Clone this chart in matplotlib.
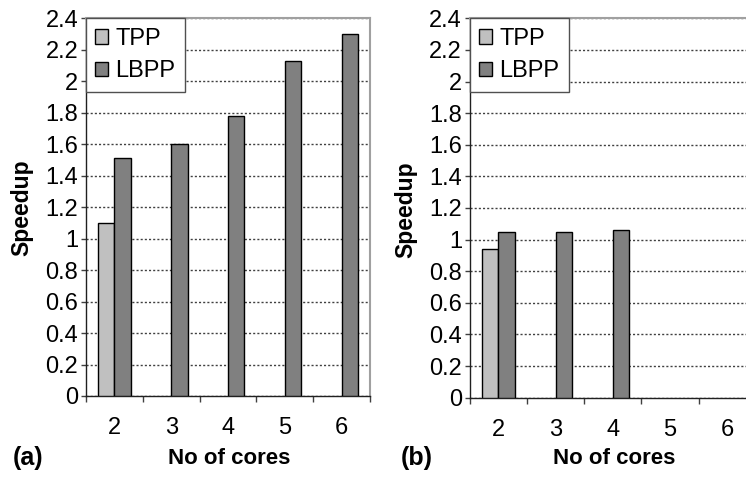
import matplotlib
matplotlib.use("Agg")
import matplotlib.pyplot as plt
import numpy as np
from matplotlib.ticker import FixedLocator

plt.rcParams['font.family'] = ['Liberation Sans', 'DejaVu Sans']

cores = ["2", "3", "4", "5", "6"]
series = ["TPP", "LBPP"]
tpp_a = [1.10, np.nan, np.nan, np.nan, np.nan]
lbpp_a = [1.51, 1.60, 1.78, 2.13, 2.30]
tpp_b = [0.94, np.nan, np.nan, np.nan, np.nan]
lbpp_b = [1.05, 1.05, 1.06, np.nan, np.nan]
y_ticks = [0, 0.2, 0.4, 0.6, 0.8, 1.0, 1.2, 1.4, 1.6, 1.8, 2.0, 2.2, 2.4]
y_tick_labels = ["0", "0.2", "0.4", "0.6", "0.8", "1", "1.2", "1.4", "1.6",
                 "1.8", "2", "2.2", "2.4"]
panel_tags = ["(a)", "(b)"]
x_title = "No of cores"
y_title = "Speedup"

colors = ["#c0c0c0", "#808080"]
W, H = 746, 478
fig = plt.figure(figsize=(W / 100, H / 100), dpi=100)

def px_rect(left, top, right, bottom):
    return [left / W, 1 - bottom / H, (right - left) / W, (bottom - top) / H]

panels = [
    dict(rect=px_rect(86, 18.3, 370, 396), tpp=tpp_a, lbpp=lbpp_a,
         tag_xy=(13, 465), xl_xy=(229, 464), yl_xy=(22, 208)),
    dict(rect=px_rect(469.7, 18.3, 756, 397.7), tpp=tpp_b, lbpp=lbpp_b,
         tag_xy=(401, 465), xl_xy=(614, 464), yl_xy=(406, 210)),
]

tick_fs = 17
bw = 0.29
x = np.arange(len(cores))
for i, p in enumerate(panels):
    ax = fig.add_axes(p["rect"])
    ax.bar(x - bw / 2, p["tpp"], bw, color=colors[0], edgecolor="black",
           linewidth=1.0, label=series[0], zorder=3)
    ax.bar(x + bw / 2, p["lbpp"], bw, color=colors[1], edgecolor="black",
           linewidth=1.0, label=series[1], zorder=3)
    ax.set_xlim(-0.5, len(cores) - 0.5)
    ax.set_ylim(0, 2.4)
    ax.set_yticks(y_ticks)
    ax.set_yticklabels(y_tick_labels, fontsize=tick_fs)
    ax.set_xticks(x)
    ax.set_xticklabels(cores, fontsize=tick_fs)
    ax.xaxis.set_minor_locator(FixedLocator(np.arange(-0.5, len(cores), 1.0)))
    ax.tick_params(axis="x", which="major", length=0, pad=15)
    ax.tick_params(axis="x", which="minor", length=4.5, width=1.0,
                   color="#404040", direction="out")
    ax.tick_params(axis="y", length=3.6, width=1.0, color="#404040",
                   direction="out", pad=2)
    ax.yaxis.grid(True, linestyle=(0, (1.5, 1.5)), linewidth=1.0,
                  color="#404040")
    ax.set_axisbelow(True)
    for s in ("left", "bottom"):
        ax.spines[s].set_color("#202020")
        ax.spines[s].set_linewidth(1.0)
    for s in ("top", "right"):
        ax.spines[s].set_color("#a0a0a0")
        ax.spines[s].set_linewidth(1.5)
    leg = ax.legend(loc="upper left", bbox_to_anchor=(0, 1), borderaxespad=0,
                    fontsize=tick_fs, handlelength=0.55, handleheight=0.55,
                    handletextpad=0.3, labelspacing=0.45, borderpad=0.4,
                    fancybox=False, framealpha=1)
    leg.get_frame().set_edgecolor("#505050")
    leg.get_frame().set_linewidth(1.0)
    fig.text(p["tag_xy"][0] / W, 1 - p["tag_xy"][1] / H, panel_tags[i],
             fontsize=18, fontweight="bold", ha="left", va="baseline")
    fig.text(p["xl_xy"][0] / W, 1 - p["xl_xy"][1] / H, x_title,
             fontsize=16, fontweight="bold", ha="center", va="baseline")
    fig.text(p["yl_xy"][0] / W, 1 - p["yl_xy"][1] / H, y_title,
             fontsize=16.5, fontweight="bold", ha="center", va="center",
             rotation=90)

fig.savefig("out.png", dpi=100, facecolor="white")
